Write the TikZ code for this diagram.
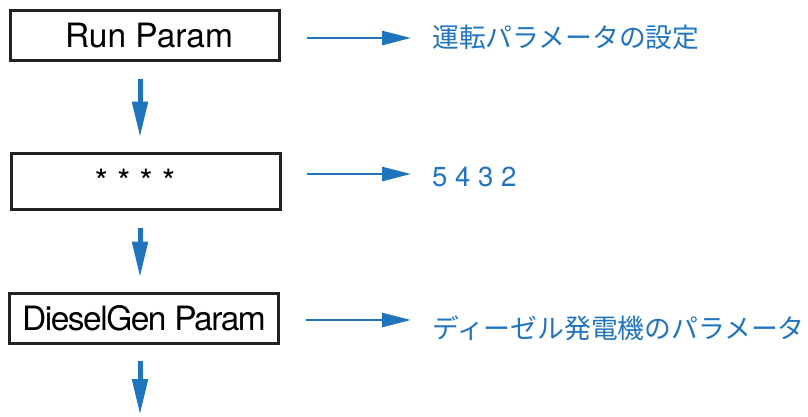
\documentclass[tikz,border=0pt]{standalone}
\usepackage{fontspec}
\setmainfont{TeX Gyre Heros}
\newfontfamily\jpfont{Noto Sans CJK JP}
\usepackage{xcolor}
\usepackage{tikz}
\usetikzlibrary{arrows.meta,positioning,calc}

\definecolor{flowblue}{RGB}{31,116,189}
\definecolor{boxline}{RGB}{34,34,34}

\begin{document}
\begin{tikzpicture}[x=1pt, y=-1pt,
  pbox/.style={draw=boxline, line width=3pt, minimum width=269pt, minimum height=50pt,
               inner sep=0pt, font=\fontsize{33.5}{36}\selectfont},
  desc/.style={anchor=west, inner sep=0pt, text=flowblue, font=\jpfont\fontsize{26.8}{30}\selectfont},
  downarrow/.style={-{Triangle[length=36pt, width=15pt]}, line width=5pt, draw=flowblue},
  rarrow/.style={-{Triangle[length=29pt, width=14pt]}, line width=2.7pt, draw=flowblue}
]
\useasboundingbox (0,0) rectangle (808,416);

\node[pbox] (run) at (144.5,35.5) {\hspace{9pt}Run Param};
\node[pbox, minimum height=56pt] (stars) at (145.5,181) {* * * *\hspace*{21pt}\null};
\node[pbox] (diesel) at (144,318) {\addfontfeature{LetterSpace=-4.5}DieselGen Param};
\coordinate (next) at (140,416);

\node[desc] (desc1) at (432,37) {運転パラメータの設定};
\node[desc, font=\fontsize{27.5}{30}\selectfont] (desc2) at (432,177) {5 4 3 2};
\node[desc] (desc3) at (432,328) {ディーゼル発電機のパラメータ};

% flow down
\draw[downarrow, shorten <=17pt, shorten >=14pt] ([xshift=-4.5pt]run.south) -- ([xshift=-5.5pt]stars.north);
\draw[downarrow, shorten <=17pt, shorten >=14pt] ([xshift=-5.5pt]stars.south) -- ([xshift=-4pt]diesel.north);
\draw[downarrow, shorten <=16pt, shorten >=1pt] ([xshift=-4pt]diesel.south) -- (next);

% meaning of each line
\draw[rarrow, shorten <=26pt, shorten >=21pt] ([yshift=-2.5pt]run.east) -- ([yshift=-2.5pt]run.east -| desc1.west);
\draw[rarrow, shorten <=25pt, shorten >=21pt] ([yshift=7pt]stars.east) -- ([yshift=7pt]stars.east -| desc2.west);
\draw[rarrow, shorten <=26pt, shorten >=21pt] ([yshift=-2pt]diesel.east) -- ([yshift=-2pt]diesel.east -| desc3.west);
\end{tikzpicture}
\end{document}
